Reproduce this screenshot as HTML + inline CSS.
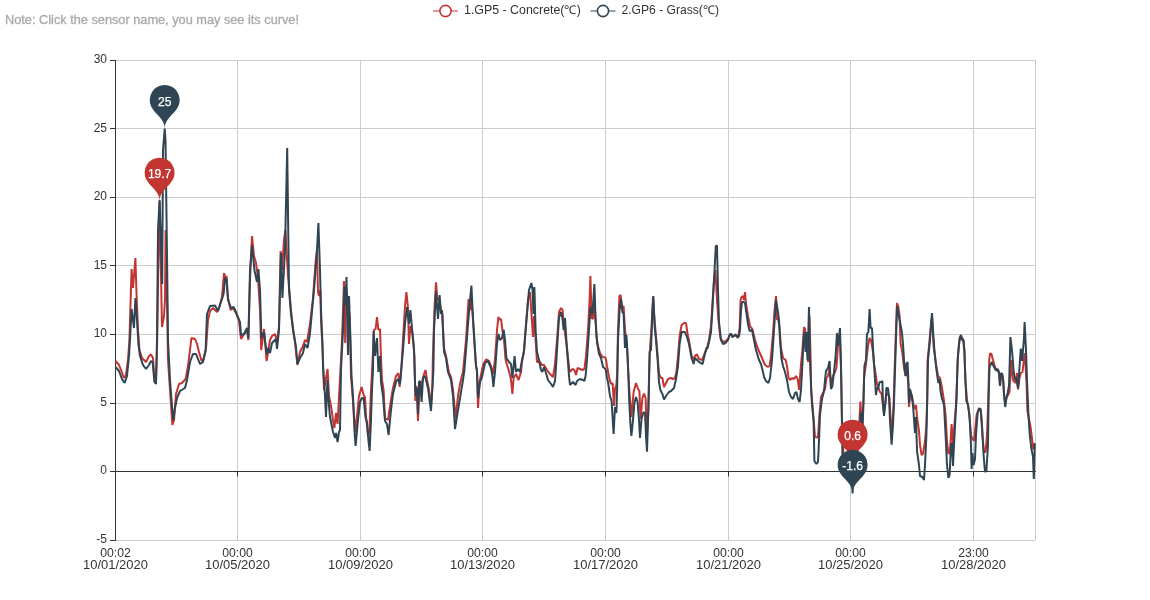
<!DOCTYPE html><html><head><meta charset="utf-8"><style>html,body{margin:0;padding:0;background:#fff}svg{display:block;will-change:transform;opacity:0.999}text{font-family:"Liberation Sans",sans-serif}</style></head><body>
<svg width="1150" height="600" viewBox="0 0 1150 600">
<rect width="1150" height="600" fill="#fff"/>
<line x1="115" y1="540.5" x2="1035" y2="540.5" stroke="#ccc" stroke-width="1"/>
<line x1="115" y1="471.5" x2="1035" y2="471.5" stroke="#ccc" stroke-width="1"/>
<line x1="115" y1="403.5" x2="1035" y2="403.5" stroke="#ccc" stroke-width="1"/>
<line x1="115" y1="334.5" x2="1035" y2="334.5" stroke="#ccc" stroke-width="1"/>
<line x1="115" y1="265.5" x2="1035" y2="265.5" stroke="#ccc" stroke-width="1"/>
<line x1="115" y1="197.5" x2="1035" y2="197.5" stroke="#ccc" stroke-width="1"/>
<line x1="115" y1="128.5" x2="1035" y2="128.5" stroke="#ccc" stroke-width="1"/>
<line x1="115" y1="60.5" x2="1035" y2="60.5" stroke="#ccc" stroke-width="1"/>
<line x1="115.5" y1="60" x2="115.5" y2="540" stroke="#ccc" stroke-width="1"/>
<line x1="237.5" y1="60" x2="237.5" y2="540" stroke="#ccc" stroke-width="1"/>
<line x1="360.5" y1="60" x2="360.5" y2="540" stroke="#ccc" stroke-width="1"/>
<line x1="482.5" y1="60" x2="482.5" y2="540" stroke="#ccc" stroke-width="1"/>
<line x1="605.5" y1="60" x2="605.5" y2="540" stroke="#ccc" stroke-width="1"/>
<line x1="728.5" y1="60" x2="728.5" y2="540" stroke="#ccc" stroke-width="1"/>
<line x1="850.5" y1="60" x2="850.5" y2="540" stroke="#ccc" stroke-width="1"/>
<line x1="973.5" y1="60" x2="973.5" y2="540" stroke="#ccc" stroke-width="1"/>
<line x1="1035.5" y1="60" x2="1035.5" y2="540" stroke="#ccc" stroke-width="1"/>
<line x1="115.5" y1="60" x2="115.5" y2="541" stroke="#333" stroke-width="1"/>
<line x1="110" y1="540.5" x2="115" y2="540.5" stroke="#333" stroke-width="1"/>
<text x="107" y="543.00" font-size="12" fill="#333" text-anchor="end">-5</text>
<line x1="110" y1="471.5" x2="115" y2="471.5" stroke="#333" stroke-width="1"/>
<text x="107" y="474.43" font-size="12" fill="#333" text-anchor="end">0</text>
<line x1="110" y1="403.5" x2="115" y2="403.5" stroke="#333" stroke-width="1"/>
<text x="107" y="405.86" font-size="12" fill="#333" text-anchor="end">5</text>
<line x1="110" y1="334.5" x2="115" y2="334.5" stroke="#333" stroke-width="1"/>
<text x="107" y="337.29" font-size="12" fill="#333" text-anchor="end">10</text>
<line x1="110" y1="265.5" x2="115" y2="265.5" stroke="#333" stroke-width="1"/>
<text x="107" y="268.71" font-size="12" fill="#333" text-anchor="end">15</text>
<line x1="110" y1="197.5" x2="115" y2="197.5" stroke="#333" stroke-width="1"/>
<text x="107" y="200.14" font-size="12" fill="#333" text-anchor="end">20</text>
<line x1="110" y1="128.5" x2="115" y2="128.5" stroke="#333" stroke-width="1"/>
<text x="107" y="131.57" font-size="12" fill="#333" text-anchor="end">25</text>
<line x1="110" y1="60.5" x2="115" y2="60.5" stroke="#333" stroke-width="1"/>
<text x="107" y="63.00" font-size="12" fill="#333" text-anchor="end">30</text>
<line x1="115" y1="471.5" x2="1036" y2="471.5" stroke="#333" stroke-width="1"/>
<line x1="115.5" y1="471.5" x2="115.5" y2="476.5" stroke="#333" stroke-width="1"/>
<text x="115.5" y="557" font-size="12" fill="#333" text-anchor="middle" textLength="30.5" lengthAdjust="spacingAndGlyphs">00:02</text>
<text x="115.5" y="569" font-size="12" fill="#333" text-anchor="middle" textLength="65" lengthAdjust="spacingAndGlyphs">10/01/2020</text>
<line x1="237.5" y1="471.5" x2="237.5" y2="476.5" stroke="#333" stroke-width="1"/>
<text x="237.5" y="557" font-size="12" fill="#333" text-anchor="middle" textLength="30.5" lengthAdjust="spacingAndGlyphs">00:00</text>
<text x="237.5" y="569" font-size="12" fill="#333" text-anchor="middle" textLength="65" lengthAdjust="spacingAndGlyphs">10/05/2020</text>
<line x1="360.5" y1="471.5" x2="360.5" y2="476.5" stroke="#333" stroke-width="1"/>
<text x="360.5" y="557" font-size="12" fill="#333" text-anchor="middle" textLength="30.5" lengthAdjust="spacingAndGlyphs">00:00</text>
<text x="360.5" y="569" font-size="12" fill="#333" text-anchor="middle" textLength="65" lengthAdjust="spacingAndGlyphs">10/09/2020</text>
<line x1="482.5" y1="471.5" x2="482.5" y2="476.5" stroke="#333" stroke-width="1"/>
<text x="482.5" y="557" font-size="12" fill="#333" text-anchor="middle" textLength="30.5" lengthAdjust="spacingAndGlyphs">00:00</text>
<text x="482.5" y="569" font-size="12" fill="#333" text-anchor="middle" textLength="65" lengthAdjust="spacingAndGlyphs">10/13/2020</text>
<line x1="605.5" y1="471.5" x2="605.5" y2="476.5" stroke="#333" stroke-width="1"/>
<text x="605.5" y="557" font-size="12" fill="#333" text-anchor="middle" textLength="30.5" lengthAdjust="spacingAndGlyphs">00:00</text>
<text x="605.5" y="569" font-size="12" fill="#333" text-anchor="middle" textLength="65" lengthAdjust="spacingAndGlyphs">10/17/2020</text>
<line x1="728.5" y1="471.5" x2="728.5" y2="476.5" stroke="#333" stroke-width="1"/>
<text x="728.5" y="557" font-size="12" fill="#333" text-anchor="middle" textLength="30.5" lengthAdjust="spacingAndGlyphs">00:00</text>
<text x="728.5" y="569" font-size="12" fill="#333" text-anchor="middle" textLength="65" lengthAdjust="spacingAndGlyphs">10/21/2020</text>
<line x1="850.5" y1="471.5" x2="850.5" y2="476.5" stroke="#333" stroke-width="1"/>
<text x="850.5" y="557" font-size="12" fill="#333" text-anchor="middle" textLength="30.5" lengthAdjust="spacingAndGlyphs">00:00</text>
<text x="850.5" y="569" font-size="12" fill="#333" text-anchor="middle" textLength="65" lengthAdjust="spacingAndGlyphs">10/25/2020</text>
<line x1="973.5" y1="471.5" x2="973.5" y2="476.5" stroke="#333" stroke-width="1"/>
<text x="973.5" y="557" font-size="12" fill="#333" text-anchor="middle" textLength="30.5" lengthAdjust="spacingAndGlyphs">23:00</text>
<text x="973.5" y="569" font-size="12" fill="#333" text-anchor="middle" textLength="65" lengthAdjust="spacingAndGlyphs">10/28/2020</text>
<text x="5" y="23.5" font-size="12" fill="#aaa" stroke="#aaa" stroke-width="0.3" textLength="294" lengthAdjust="spacingAndGlyphs">Note: Click the sensor name, you may see its curve!</text>
<line x1="433" y1="11" x2="458" y2="11" stroke="#c23531" stroke-width="1"/>
<circle cx="445.5" cy="11" r="5.6" fill="#fff" stroke="#c23531" stroke-width="1.6"/>
<text x="464" y="14" font-size="12" fill="#333" textLength="117" lengthAdjust="spacingAndGlyphs">1.GP5 - Concrete(℃)</text>
<line x1="590.5" y1="11" x2="615.5" y2="11" stroke="#2f4554" stroke-width="1"/>
<circle cx="603.0" cy="11" r="5.6" fill="#fff" stroke="#2f4554" stroke-width="1.6"/>
<text x="621.5" y="14" font-size="12" fill="#333" textLength="97.5" lengthAdjust="spacingAndGlyphs">2.GP6 - Grass(℃)</text>
<polyline points="115.6,361.0 119.0,365.0 121.0,370.0 124.0,378.0 126.0,375.0 128.0,360.0 129.4,340.0 131.6,269.0 133.0,288.0 135.4,258.0 136.6,296.0 138.0,330.0 139.5,350.0 142.0,358.0 146.0,362.0 149.0,356.0 151.0,354.4 153.0,358.0 154.4,378.0 156.0,380.0 157.0,350.0 158.6,250.0 159.6,201.3 162.0,327.0 164.0,316.0 165.0,300.0 165.6,230.0 167.0,300.0 168.0,360.0 170.0,390.0 172.4,425.0 174.0,420.0 176.0,394.0 179.0,384.0 182.0,383.0 185.6,379.0 188.0,366.0 190.0,350.0 191.4,338.0 195.0,339.0 197.0,344.0 199.0,352.0 201.6,361.0 203.6,359.0 206.0,349.0 208.0,320.0 210.0,311.0 213.0,308.0 217.0,312.0 219.0,308.0 222.0,297.0 224.0,273.0 225.6,278.0 226.6,276.0 228.0,298.0 230.6,310.0 233.0,308.0 236.0,313.0 239.0,321.0 241.0,339.0 243.6,335.0 247.0,330.0 248.4,340.0 250.0,280.0 252.0,236.0 254.0,256.0 256.0,263.0 258.0,278.0 260.0,310.0 261.2,350.0 264.0,329.0 266.6,361.0 270.0,340.0 272.0,336.0 275.0,334.0 277.0,342.0 279.0,326.0 280.6,251.0 282.0,270.0 284.0,240.0 285.4,230.0 288.0,276.0 289.4,290.0 291.0,310.0 293.0,328.0 295.0,342.0 297.4,365.0 300.0,352.0 303.0,346.0 305.0,340.0 307.0,342.0 310.0,324.0 313.0,298.0 315.6,262.0 317.0,250.0 318.0,292.0 319.0,296.0 320.4,290.0 321.0,320.0 322.6,350.0 324.0,390.0 327.6,369.0 329.0,396.0 331.0,406.0 333.0,420.0 334.4,428.0 336.0,413.0 337.6,424.0 339.6,386.0 341.0,360.0 342.0,340.0 344.0,281.0 345.2,343.0 346.5,290.0 349.6,316.0 351.0,376.0 352.4,394.0 354.4,420.0 355.6,432.0 357.0,416.0 359.0,396.0 361.6,387.0 363.6,395.0 365.0,397.0 366.0,416.0 368.0,436.0 369.4,432.0 371.0,390.0 372.0,372.0 374.0,330.0 375.6,329.0 377.0,317.0 378.4,330.0 380.0,329.0 381.0,358.0 382.0,380.0 383.6,390.0 385.0,418.0 388.0,420.0 391.0,400.0 393.0,388.0 396.0,376.0 398.4,373.0 399.6,387.0 401.0,374.0 403.0,340.0 405.0,306.0 406.4,292.0 408.0,308.0 409.0,344.0 410.4,326.0 412.4,334.0 414.4,356.0 415.4,401.0 416.6,386.0 418.0,421.0 419.4,390.0 422.0,382.0 424.0,374.0 425.6,370.0 427.0,380.0 429.0,390.0 431.0,406.0 432.4,386.0 432.8,360.0 434.4,310.0 436.0,282.4 437.4,300.0 439.0,298.0 441.0,310.0 442.4,314.0 444.0,348.0 446.0,356.0 449.0,373.0 451.0,377.0 453.0,390.0 455.6,418.0 458.0,396.0 460.0,384.0 462.4,374.0 463.0,372.0 466.0,340.0 468.6,299.0 470.0,310.0 471.4,300.0 473.0,320.0 474.4,342.0 476.0,366.0 477.0,372.0 478.0,408.0 479.6,382.0 481.0,375.0 483.0,365.0 486.0,359.4 489.0,361.0 491.0,366.0 493.0,374.0 495.0,360.0 497.0,330.0 498.4,317.0 500.0,320.0 501.0,319.0 502.4,330.0 504.0,340.0 505.6,360.0 508.0,368.0 510.0,375.0 511.0,380.0 512.4,394.0 513.6,378.0 516.0,374.0 518.6,380.0 521.0,372.0 522.0,362.0 524.0,350.0 526.0,324.0 528.0,300.0 530.0,292.0 531.6,316.0 533.0,337.0 534.0,316.0 535.6,340.0 537.0,362.0 540.0,362.0 542.0,365.0 544.0,365.0 547.0,370.0 550.0,374.0 553.0,377.0 555.0,364.0 557.0,340.0 559.0,312.0 561.0,308.0 562.6,310.0 564.0,326.0 567.0,348.0 569.4,370.0 570.0,372.0 572.4,369.0 574.4,370.0 576.0,375.0 577.6,368.0 580.0,369.0 582.4,370.0 584.4,369.0 586.0,356.0 588.0,330.0 589.6,300.0 590.4,276.0 591.6,318.0 593.0,319.0 594.4,300.0 596.4,336.0 598.0,346.0 600.0,353.0 602.4,357.0 605.6,357.6 607.0,366.0 609.0,377.0 611.0,384.0 612.6,383.0 614.0,406.0 615.0,389.0 616.4,385.0 617.2,372.0 618.0,330.0 619.4,296.0 620.6,295.0 622.0,307.0 623.6,306.4 625.0,330.0 627.0,345.0 628.2,372.0 629.6,394.0 631.4,417.0 633.6,392.0 636.0,383.0 638.0,389.0 639.4,391.0 640.6,419.0 642.4,398.0 644.0,393.6 645.6,398.0 647.0,436.0 648.4,410.0 649.0,376.0 650.0,348.0 651.6,326.0 653.0,297.0 654.4,318.0 656.0,336.0 658.0,360.0 659.0,374.0 661.0,378.0 662.4,378.0 664.0,387.0 666.0,383.0 668.0,379.0 671.0,378.0 673.0,379.0 675.0,378.0 676.4,372.0 678.0,356.0 679.6,336.0 681.6,325.0 684.0,323.0 686.0,323.0 687.6,334.0 689.6,344.0 691.6,356.0 693.6,359.0 695.0,356.0 697.0,354.4 699.0,359.0 702.0,360.0 704.4,354.0 707.0,348.0 709.0,340.0 711.0,326.0 712.4,304.0 714.0,280.0 715.4,270.0 717.0,300.0 718.4,320.0 720.4,338.0 723.0,342.0 726.0,341.0 728.0,339.0 729.6,335.0 731.0,333.6 732.4,337.0 734.0,336.0 735.4,334.4 738.0,338.0 739.6,328.0 740.6,300.0 741.6,297.0 743.0,296.0 744.0,300.0 745.0,292.0 746.0,304.0 748.0,316.0 750.0,326.0 752.4,329.0 755.0,340.0 758.0,349.0 762.0,358.0 765.0,365.0 768.0,367.0 769.6,366.0 771.0,356.0 773.0,334.0 774.4,312.0 776.0,296.0 777.0,320.0 778.0,318.0 779.6,328.0 781.0,348.0 783.0,358.0 785.6,360.0 787.0,366.0 788.6,378.0 790.0,380.0 792.0,378.0 794.0,379.0 796.0,376.0 797.6,379.0 799.2,390.0 800.4,372.0 801.4,360.0 802.4,350.0 804.0,327.0 805.0,329.0 806.4,340.0 808.0,362.0 809.4,316.0 810.4,350.0 811.2,390.0 813.0,411.0 815.0,437.0 818.0,437.4 819.4,415.0 821.0,397.0 823.0,393.0 825.0,389.0 826.4,378.0 828.0,376.0 829.6,368.0 831.0,386.0 833.0,376.0 835.0,372.0 836.4,368.0 838.0,346.0 840.0,340.0 841.0,368.0 842.0,420.0 843.5,455.0 851.5,455.0 852.6,463.2 853.7,450.0 859.0,430.0 860.4,401.6 862.0,430.0 863.4,400.0 864.0,378.0 866.0,364.0 868.0,346.0 869.6,338.0 871.0,340.0 873.0,352.0 874.0,364.0 875.6,374.0 877.0,384.0 880.0,392.0 881.6,394.0 882.4,401.0 884.0,412.0 886.0,396.0 888.0,393.0 889.4,397.0 891.0,425.0 892.0,431.0 893.6,405.0 894.6,370.0 895.6,340.0 897.0,303.0 898.4,307.0 899.6,316.0 900.6,344.0 902.0,350.0 904.0,368.0 905.6,376.0 907.0,370.0 908.4,385.0 909.0,407.0 910.4,393.0 912.0,396.0 914.0,409.0 916.0,405.0 917.0,417.0 919.0,431.0 920.0,445.0 921.6,455.0 923.0,454.0 925.0,441.0 926.4,425.0 927.2,398.0 927.6,360.0 929.0,346.0 931.0,324.0 932.0,316.0 933.6,346.0 936.0,364.0 938.0,376.0 940.0,378.0 942.0,388.0 944.0,401.0 945.6,415.0 947.0,441.0 948.4,454.0 950.0,451.0 951.6,424.0 953.0,445.0 954.4,425.0 956.0,405.0 957.0,380.0 958.0,356.0 959.6,338.0 961.0,336.5 963.0,339.0 964.4,352.0 965.4,380.0 967.0,400.0 969.0,411.0 971.0,435.0 972.4,439.0 974.0,441.0 975.6,425.0 976.6,415.0 979.0,408.0 981.0,412.0 982.4,435.0 984.0,452.0 985.6,452.0 987.0,435.0 988.2,402.0 989.2,360.0 990.0,353.5 991.5,354.0 993.0,360.0 995.0,367.0 997.5,371.0 999.0,373.0 1000.0,386.0 1001.0,374.0 1002.2,375.0 1003.2,381.0 1004.0,394.0 1005.2,404.0 1006.4,398.0 1008.0,395.0 1009.5,392.0 1010.5,370.0 1011.2,360.0 1012.0,373.0 1013.0,380.0 1015.5,383.0 1017.0,373.0 1018.0,389.5 1019.5,378.0 1020.8,373.0 1022.5,372.0 1023.5,363.0 1024.5,353.0 1025.5,365.0 1026.5,382.0 1027.4,411.0 1030.6,427.0 1032.2,440.0 1033.3,449.4 1034.8,443.0" fill="none" stroke="#c23531" stroke-width="2" stroke-linejoin="bevel"/>
<polyline points="115.6,367.0 119.0,371.0 122.0,379.0 124.6,383.0 127.0,376.0 129.0,356.0 130.0,340.0 131.6,309.0 134.0,328.0 135.4,298.0 137.0,320.0 138.5,345.0 140.0,356.0 143.0,365.0 146.0,369.0 149.0,365.0 151.0,361.0 152.6,362.0 154.4,382.0 156.0,384.0 157.0,340.0 158.0,230.0 159.6,200.0 162.2,284.0 163.0,150.0 164.7,128.6 165.5,140.0 167.2,270.0 168.0,340.0 170.0,380.0 172.0,406.0 173.2,420.0 175.0,408.0 177.0,398.0 180.0,391.0 185.0,388.0 187.0,380.0 190.0,362.0 193.0,354.0 196.0,354.0 200.0,364.0 203.0,362.0 205.6,350.0 207.0,314.0 210.0,306.0 215.0,305.6 218.0,311.0 221.0,302.0 223.6,294.0 225.0,278.0 226.4,279.0 228.0,300.0 231.0,308.0 233.6,307.0 236.0,312.0 240.0,322.0 241.0,335.0 244.0,334.0 247.0,328.0 248.4,338.0 250.0,270.0 252.0,245.0 254.4,270.0 257.0,282.0 258.4,269.0 260.0,290.0 261.4,338.0 264.0,332.0 266.0,348.0 267.0,354.0 268.0,348.0 270.0,353.0 272.0,343.0 276.0,339.0 277.0,349.0 278.0,340.0 279.0,330.0 281.0,253.0 282.4,298.0 285.0,250.0 287.2,148.0 289.0,290.0 291.0,314.0 293.0,330.0 296.0,347.0 297.4,364.0 300.0,358.0 303.0,353.0 305.0,344.0 307.6,348.0 310.0,333.0 314.0,290.0 317.0,250.0 318.4,223.0 320.0,270.0 321.0,310.0 322.5,345.0 323.0,366.0 325.0,396.0 326.0,417.0 327.4,380.0 329.0,406.0 330.0,417.0 333.0,432.0 335.0,438.0 336.0,433.0 337.6,442.0 339.0,432.0 340.0,430.0 341.0,370.0 343.0,330.0 344.5,286.5 345.4,305.0 346.5,277.0 348.0,355.0 349.0,296.0 350.5,340.0 351.5,376.0 353.0,396.0 354.4,430.0 355.6,446.0 358.0,420.0 360.0,402.0 362.0,398.0 363.6,398.0 365.6,418.0 367.0,422.0 368.4,440.0 369.6,451.0 371.0,420.0 372.0,390.0 373.0,370.0 373.6,331.0 375.0,356.0 377.0,338.0 378.4,372.0 380.0,356.0 381.0,382.0 383.0,396.0 385.0,421.0 387.0,424.0 388.6,435.0 391.0,410.0 393.0,394.0 396.0,382.0 398.0,379.0 400.0,384.0 401.0,372.0 403.0,350.0 405.0,324.0 407.0,307.0 409.0,324.0 410.4,310.0 412.0,328.0 414.0,348.0 414.8,376.0 415.6,396.0 417.0,388.0 418.0,414.0 419.0,382.0 420.0,381.0 421.6,402.0 423.0,378.0 425.0,376.0 428.0,388.0 429.6,400.0 431.0,411.0 432.4,388.0 433.4,370.0 434.0,330.0 436.0,291.0 438.0,319.0 439.6,295.0 441.0,314.0 442.0,310.0 444.0,352.0 446.0,358.0 448.0,372.0 451.0,380.0 453.0,396.0 455.0,429.0 458.0,410.0 461.0,392.0 463.0,380.0 464.4,370.0 466.0,350.0 469.0,312.0 471.4,285.6 473.0,318.0 474.4,340.0 476.0,366.0 477.0,370.0 478.0,398.0 480.0,382.0 482.0,377.0 483.3,371.0 485.0,363.0 488.0,361.0 491.0,368.0 492.4,376.0 493.4,387.0 495.0,372.0 497.0,344.0 498.4,334.0 500.0,340.0 502.0,338.0 503.6,329.6 505.0,340.0 506.4,358.0 509.0,362.0 511.0,364.0 512.4,378.0 514.6,356.0 516.0,372.0 518.0,369.0 520.0,372.0 522.0,360.0 524.0,352.0 526.0,326.0 529.0,290.0 531.4,283.0 532.6,290.0 533.4,314.0 534.4,287.0 535.6,330.0 537.0,352.0 539.0,360.0 541.0,370.0 542.4,372.0 544.0,367.0 546.0,373.0 548.0,380.0 551.0,384.0 553.0,387.0 555.0,381.0 555.8,370.0 557.0,350.0 559.0,318.0 561.0,312.0 562.4,318.0 563.6,330.0 565.0,318.0 567.0,350.0 569.0,376.0 570.0,385.0 573.0,382.0 575.6,385.0 577.0,381.0 580.0,379.0 583.0,380.0 584.4,381.0 585.6,376.0 587.0,360.0 589.0,330.0 590.6,307.0 592.4,314.0 594.4,284.0 595.6,320.0 597.0,342.0 599.0,354.0 601.0,358.0 603.0,367.0 605.6,369.0 607.0,378.0 608.0,382.0 610.0,396.0 611.6,401.0 612.6,418.0 613.6,434.0 615.0,407.0 616.4,413.0 617.2,386.0 618.0,340.0 619.6,310.0 621.0,299.0 622.4,312.0 623.6,314.0 625.0,348.0 626.4,335.0 627.6,356.0 628.4,375.0 629.0,396.0 630.4,424.0 631.4,436.0 633.0,420.0 634.4,403.0 636.0,397.0 637.6,402.0 639.0,420.0 640.0,438.0 641.6,418.0 643.6,412.0 645.0,413.0 646.0,436.0 647.0,451.6 648.0,420.0 649.0,385.0 649.6,352.0 651.0,350.0 652.4,312.0 653.4,296.0 654.6,326.0 656.0,340.0 657.6,360.0 659.0,382.0 660.4,390.0 662.4,394.0 664.0,399.6 666.0,396.0 669.0,392.0 671.0,391.0 674.0,388.0 676.0,379.0 678.0,366.0 679.6,344.0 681.6,332.0 685.0,332.0 687.0,337.0 689.0,344.0 691.6,358.0 693.6,364.0 695.0,358.0 697.0,360.0 699.6,362.4 702.6,364.0 704.4,356.0 706.4,348.0 707.6,348.0 709.0,342.0 711.0,332.0 712.4,310.0 714.0,280.0 715.8,246.0 717.0,245.6 718.0,290.0 719.0,322.0 721.0,340.0 723.0,344.0 725.6,343.0 728.0,340.0 729.6,335.0 731.0,333.6 732.4,337.0 734.0,336.0 735.4,334.4 737.0,337.0 739.0,336.0 740.0,330.0 741.0,310.0 742.0,302.0 743.6,302.0 745.0,303.0 746.0,310.0 748.0,324.0 749.6,331.0 752.0,330.0 754.0,340.0 756.0,350.0 759.0,360.0 761.0,364.0 763.0,372.0 764.0,377.0 766.0,381.0 768.4,383.0 770.0,378.0 772.0,360.0 774.0,330.0 776.0,300.0 778.0,312.0 779.0,320.0 780.0,340.0 781.4,358.0 783.0,366.0 785.0,372.0 787.0,380.0 789.0,392.0 791.0,397.0 793.0,399.0 795.0,393.0 796.4,392.0 798.0,399.0 799.6,402.0 801.0,390.0 802.0,372.0 803.6,340.0 804.4,332.0 805.6,352.0 806.6,332.0 807.6,360.0 809.0,307.0 810.0,360.0 811.0,386.0 812.0,405.0 813.6,421.0 814.4,461.0 816.4,464.0 818.0,462.0 819.0,441.0 820.0,415.0 822.0,399.0 824.0,391.0 825.0,380.0 826.0,371.0 828.0,368.0 829.6,361.0 831.0,389.0 832.4,386.0 834.0,372.0 835.6,356.0 837.0,333.0 838.0,346.0 840.0,328.0 841.0,366.0 841.6,400.0 842.4,453.0 843.5,468.0 851.5,468.0 852.6,493.4 853.7,468.0 859.5,440.0 860.8,412.0 862.4,432.0 863.6,400.0 864.4,366.0 866.0,360.0 867.0,334.0 868.4,332.0 869.6,309.0 870.6,328.0 872.0,328.0 873.0,348.0 874.4,370.0 876.0,395.0 877.0,388.0 878.0,389.0 879.6,382.0 881.0,382.0 882.4,381.0 883.0,405.0 884.0,416.0 885.6,402.0 886.4,388.0 888.0,388.0 889.0,397.0 890.0,421.0 891.6,444.6 893.0,425.0 894.0,403.0 895.0,370.0 896.0,340.0 897.0,306.0 898.4,314.0 900.0,322.0 902.0,333.0 903.0,344.0 904.0,360.0 905.6,376.0 906.4,364.0 907.6,362.0 908.4,382.0 909.0,403.0 910.0,389.0 911.6,395.0 913.0,405.0 915.0,433.0 916.0,417.0 917.0,451.0 919.0,465.0 920.0,476.0 922.4,477.0 924.0,480.0 925.0,465.0 926.4,435.0 927.2,402.0 928.0,360.0 930.0,340.0 931.0,326.0 932.0,313.0 933.0,330.0 934.4,350.0 936.0,366.0 937.6,378.0 938.4,383.0 939.6,379.0 940.4,390.0 941.6,397.0 944.0,405.0 945.6,435.0 947.0,465.0 948.4,478.0 949.6,475.0 951.0,445.0 952.0,443.0 953.0,466.0 954.0,445.0 955.6,415.0 956.6,398.0 957.6,360.0 959.0,344.0 960.0,337.0 961.0,335.0 962.0,340.0 963.6,340.0 964.4,350.0 965.4,380.0 966.4,401.0 968.0,405.0 969.6,417.0 971.0,445.0 971.6,469.0 972.4,453.0 973.6,465.0 975.0,459.0 976.0,435.0 977.6,413.0 979.0,409.0 980.6,408.6 982.0,425.0 983.6,455.0 985.0,472.0 986.4,471.0 988.0,445.0 988.6,400.0 989.5,367.0 991.8,362.0 994.0,367.0 996.0,370.5 997.8,369.0 999.0,372.0 1000.0,386.0 1001.0,373.0 1002.2,374.0 1003.2,380.0 1004.0,394.0 1005.2,407.0 1006.4,398.0 1007.6,393.0 1009.0,386.0 1009.8,360.0 1010.4,337.0 1012.0,350.0 1013.5,370.0 1014.8,379.5 1016.0,377.0 1018.0,388.0 1019.0,375.0 1020.0,360.0 1020.8,348.5 1022.0,361.0 1023.0,350.0 1024.0,338.0 1024.6,322.0 1026.0,350.0 1027.0,380.0 1028.5,416.0 1029.8,435.0 1031.4,449.0 1033.0,456.6 1033.8,479.0 1034.8,444.0" fill="none" stroke="#2f4554" stroke-width="2" stroke-linejoin="bevel"/>
<path d="M146.05,179.11 A15.00,15.00 0 1 1 173.15,179.11 C169.30,187.25 159.60,190.76 159.60,201.26 C159.60,190.76 149.90,187.25 146.05,179.11 Z" fill="#c23531"/>
 <text x="159.6" y="178.09" font-size="12" fill="#fff" stroke="#fff" stroke-width="0.25" text-anchor="middle">19.7</text>
<path d="M839.05,441.06 A15.00,15.00 0 1 1 866.15,441.06 C862.30,449.19 852.60,452.70 852.60,463.20 C852.60,452.70 842.90,449.19 839.05,441.06 Z" fill="#c23531"/>
 <text x="852.6" y="440.03" font-size="12" fill="#fff" stroke="#fff" stroke-width="0.25" text-anchor="middle">0.6</text>
<path d="M151.15,106.43 A15.00,15.00 0 1 1 178.25,106.43 C174.40,114.56 164.70,118.07 164.70,128.57 C164.70,118.07 155.00,114.56 151.15,106.43 Z" fill="#2f4554"/>
 <text x="164.7" y="106.10" font-size="12" fill="#fff" stroke="#fff" stroke-width="0.25" text-anchor="middle">25</text>
<path d="M839.05,471.23 A15.00,15.00 0 1 1 866.15,471.23 C862.30,479.36 852.60,482.87 852.60,493.37 C852.60,482.87 842.90,479.36 839.05,471.23 Z" fill="#2f4554"/>
 <text x="852.6" y="470.20" font-size="12" fill="#fff" stroke="#fff" stroke-width="0.25" text-anchor="middle">-1.6</text>
</svg></body></html>
